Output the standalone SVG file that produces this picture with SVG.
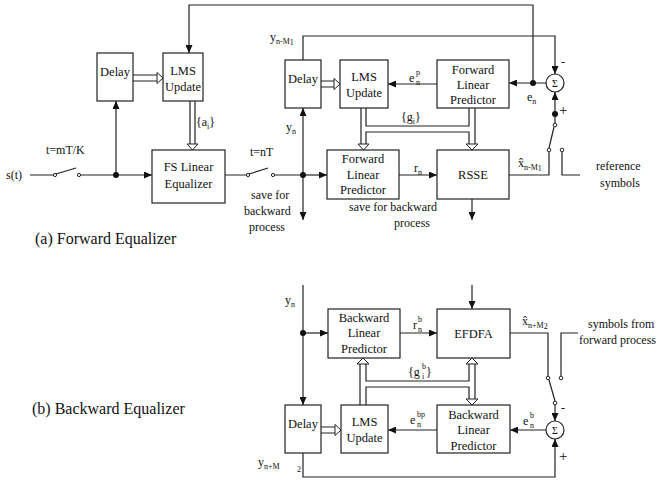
<svg xmlns="http://www.w3.org/2000/svg" width="660" height="481" viewBox="0 0 660 481">
<defs>
<marker id="ah" markerUnits="userSpaceOnUse" markerWidth="8" markerHeight="7" refX="8" refY="3.5" orient="auto"><path d="M0,0 L8,3.5 L0,7 z" fill="#111"/></marker>
<style>
.box{fill:#fff;stroke:#222;stroke-width:1.2}
.ln{fill:none;stroke:#222;stroke-width:1.2}
.ar{fill:none;stroke:#222;stroke-width:1.2;marker-end:url(#ah)}
.hd{fill:#fff;stroke:#222;stroke-width:1}
.dot{fill:#111}
.sw{fill:#fff;stroke:#222;stroke-width:1}
text{font-family:"Liberation Serif","Times New Roman",serif;fill:#111}
.t{font-size:12px}
.bt{font-size:12.5px;text-anchor:middle}
.s{font-size:8px}
.cap{font-size:16px}
</style>
</defs>
<rect width="660" height="481" fill="#fff"/>

<g id="connectors">
<!-- part a -->
<polyline class="ar" points="533,83 533,5 189,5 189,53"/>
<path class="ln" d="M30,175 H55 M56,174 L76,168 M79,175 H116"/>
<path class="ar" d="M116,175 H152"/>
<path class="ar" d="M116,175 V101"/>
<path class="ln" d="M225,175 H248 M249,174 L268,168 M273,175 H303"/>
<path class="ar" d="M303,175 H327"/>
<path class="ar" d="M303,175 V108"/>
<path class="ar" d="M303,175 V220"/>
<polyline class="ar" points="303,60 303,36 555,36 555,74"/>
<path class="ar" d="M437,84 H388"/>
<path class="ar" d="M546,83 H509"/>
<path class="ar" d="M555,114 V92"/>
<path class="ln" d="M555,114 V123 M554,127 L549,148 M549,152 V175 H509 M562,152 V175 H580"/>
<path class="ar" d="M399,175 H437"/>
<path class="ar" d="M472,199 V220"/>
<!-- hollow double arrows a -->
<path class="ln" d="M133,75 H157 M133,81 H157"/>
<polygon class="hd" points="157,72.5 163,78 157,83.5"/>
<path class="ln" d="M321,81 H334 M321,87 H334"/>
<polygon class="hd" points="334,78.5 340,84 334,89.5"/>
<path class="ln" d="M190,101 V144 M195,101 V144"/>
<polygon class="hd" points="187,144 192.5,150 198,144"/>
<path class="ln" d="M361,108 V144 M366,108 V126 H469 V108 M366,144 V132 H469 V144 M475,108 V144"/>
<polygon class="hd" points="358,144 363.5,150 369,144"/>
<polygon class="hd" points="466,144 472,150 478,144"/>
<!-- part b -->
<path class="ar" d="M303,285 V405"/>
<path class="ar" d="M303,333 H328"/>
<path class="ar" d="M400,333 H437"/>
<path class="ar" d="M472,285 V309"/>
<path class="ln" d="M510,333 H548 V376 M561,376 V333 H578 M549,380 L555,401"/>
<path class="ar" d="M555,405 V421"/>
<path class="ar" d="M546,430 H510"/>
<path class="ar" d="M437,430 H388"/>
<polyline class="ar" points="303,453 303,477 555,477 555,439"/>
<path class="ln" d="M321,427 H335 M321,433 H335"/>
<polygon class="hd" points="335,424.5 341,430 335,435.5"/>
<path class="ln" d="M360,405 V364 M366,405 V387 H469 V399 M366,364 V381 H469 V364 M475,364 V399"/>
<polygon class="hd" points="357,364 363,358 369,364"/>
<polygon class="hd" points="466,364 472,358 478,364"/>
<polygon class="hd" points="466,399 472,405 478,399"/>
<!-- dots and switch contacts -->
<circle class="dot" cx="116" cy="175" r="3"/>
<circle class="dot" cx="303" cy="175" r="3"/>
<circle class="dot" cx="533" cy="83" r="3"/>
<circle class="dot" cx="555" cy="114" r="3"/>
<circle class="dot" cx="303" cy="333" r="3"/>
<circle class="sw" cx="55" cy="175" r="1.6"/>
<circle class="sw" cx="79" cy="175" r="1.6"/>
<circle class="sw" cx="248" cy="175" r="1.6"/>
<circle class="sw" cx="273" cy="175" r="1.6"/>
<circle class="sw" cx="555" cy="125" r="1.8"/>
<circle class="sw" cx="549" cy="150" r="1.8"/>
<circle class="sw" cx="562" cy="150" r="1.8"/>
<circle class="sw" cx="548" cy="378" r="1.8"/>
<circle class="sw" cx="561" cy="378" r="1.8"/>
<circle class="sw" cx="555" cy="403" r="1.8"/>
</g>

<g id="delay1"><rect class="box" x="97" y="53" width="36" height="48"/><text class="bt" x="115" y="76">Delay</text></g>
<g id="lms1"><rect class="box" x="163" y="53" width="40" height="48"/><text class="bt" x="183" y="75">LMS</text><text class="bt" x="183" y="91">Update</text></g>
<g id="fs_eq"><rect class="box" x="152" y="150" width="73" height="53"/><text class="bt" x="188.5" y="171">FS Linear</text><text class="bt" x="188.5" y="188">Equalizer</text></g>
<g id="delay2"><rect class="box" x="285" y="60" width="36" height="48"/><text class="bt" x="303" y="83">Delay</text></g>
<g id="lms2"><rect class="box" x="340" y="60" width="48" height="48"/><text class="bt" x="364" y="81">LMS</text><text class="bt" x="364" y="97">Update</text></g>
<g id="flp_top"><rect class="box" x="437" y="60" width="72" height="48"/><text class="bt" x="473" y="74">Forward</text><text class="bt" x="473" y="89">Linear</text><text class="bt" x="473" y="104">Predictor</text></g>
<g id="sum1"><circle class="box" cx="555" cy="83" r="9"/><text class="bt" x="555" y="87" style="font-size:10px">Σ</text></g>
<g id="flp_mid"><rect class="box" x="327" y="150" width="72" height="49"/><text class="bt" x="363" y="163">Forward</text><text class="bt" x="363" y="179">Linear</text><text class="bt" x="363" y="194">Predictor</text></g>
<g id="rsse"><rect class="box" x="437" y="150" width="72" height="49"/><text class="bt" x="473" y="179">RSSE</text></g>

<g id="blp1"><rect class="box" x="328" y="309" width="72" height="49"/><text class="bt" x="364" y="322">Backward</text><text class="bt" x="364" y="337">Linear</text><text class="bt" x="364" y="353">Predictor</text></g>
<g id="efdfa"><rect class="box" x="437" y="309" width="73" height="49"/><text class="bt" x="473.5" y="338">EFDFA</text></g>
<g id="delay3"><rect class="box" x="285" y="405" width="36" height="48"/><text class="bt" x="303" y="428">Delay</text></g>
<g id="lms3"><rect class="box" x="341" y="405" width="47" height="48"/><text class="bt" x="364.5" y="426">LMS</text><text class="bt" x="364.5" y="442">Update</text></g>
<g id="blp2"><rect class="box" x="437" y="405" width="73" height="48"/><text class="bt" x="473.5" y="419">Backward</text><text class="bt" x="473.5" y="434">Linear</text><text class="bt" x="473.5" y="450">Predictor</text></g>
<g id="sum2"><circle class="box" cx="555" cy="430" r="9"/><text class="bt" x="555" y="434" style="font-size:10px">Σ</text></g>

<g id="labels">
<text class="t" x="6" y="179">s(t)</text>
<text class="t" x="46" y="154">t=mT/K</text>
<text class="t" x="196" y="126">{a<tspan class="s" dy="3">i</tspan><tspan dy="-3">}</tspan></text>
<text class="t" x="250" y="156">t=nT</text>
<text class="t" x="251" y="199">save for</text>
<text class="t" x="244" y="215">backward</text>
<text class="t" x="249" y="231">process</text>
<text class="t" x="286" y="131">y<tspan class="s" dy="3">n</tspan></text>
<text class="t" x="270" y="41">y<tspan class="s" dy="3">n-M</tspan><tspan class="s" dy="1">1</tspan></text>
<text class="t" x="409" y="82">e</text><text class="s" x="416" y="75">p</text><text class="s" x="416" y="85">n</text>
<text class="t" x="401" y="121">{g<tspan class="s" dy="3">i</tspan><tspan dy="-3">}</tspan></text>
<text class="t" x="527" y="101">e<tspan class="s" dy="3">n</tspan></text>
<text class="t" x="561" y="66">-</text>
<text class="t" x="559" y="115" style="font-size:15px">+</text>
<text class="t" x="414" y="172">r<tspan class="s" dy="3">n</tspan></text>
<text class="t" x="518" y="167">x&#770;<tspan class="s" dy="3">n-M</tspan><tspan class="s" dy="1">1</tspan></text>
<text class="t" x="349" y="211">save for backward</text>
<text class="t" x="394" y="227">process</text>
<text class="t" x="596" y="170">reference</text>
<text class="t" x="600" y="187">symbols</text>
<text class="cap" x="35" y="244">(a) Forward Equalizer</text>

<text class="t" x="285" y="304">y<tspan class="s" dy="3">n</tspan></text>
<text class="t" x="413" y="329">r</text><text class="s" x="418" y="322">b</text><text class="s" x="418" y="332">n</text>
<text class="t" x="408" y="376">{g</text><text class="s" x="422" y="369">b</text><text class="s" x="422" y="379">i</text><text class="t" x="426" y="376">}</text>
<text class="t" x="522" y="325">x&#770;<tspan class="s" dy="3">n+M</tspan><tspan class="s" dy="1">2</tspan></text>
<text class="t" x="588" y="328">symbols from</text>
<text class="t" x="579" y="344">forward process</text>
<text class="t" x="410" y="424">e</text><text class="s" x="417" y="417">bp</text><text class="s" x="417" y="427">n</text>
<text class="t" x="523" y="425">e</text><text class="s" x="530" y="418">b</text><text class="s" x="530" y="428">n</text>
<text class="t" x="561" y="412">-</text>
<text class="t" x="559" y="461" style="font-size:15px">+</text>
<text class="cap" x="32" y="414">(b) Backward Equalizer</text>
<text class="t" x="258" y="466">y<tspan class="s" dy="3">n+M</tspan></text>
<text class="s" x="297" y="472">2</text>
</g>
</svg>
